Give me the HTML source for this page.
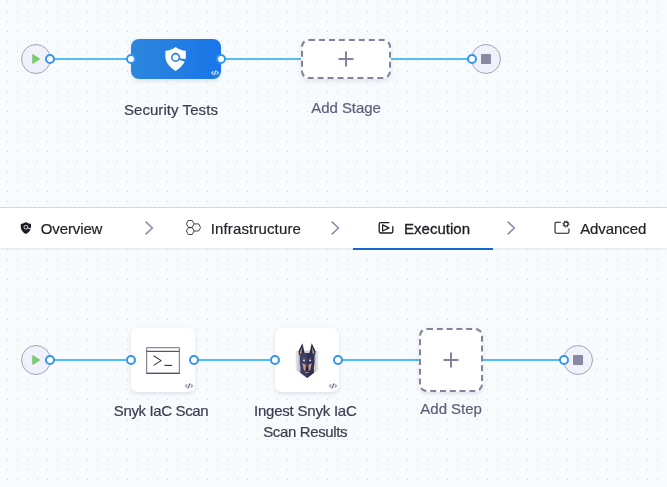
<!DOCTYPE html>
<html lang="en">
<head>
<meta charset="utf-8">
<title>Pipeline Studio</title>
<style>
html,body{margin:0;padding:0;}
body{width:667px;height:487px;overflow:hidden;position:relative;background:#f8fbfe;font-family:"Liberation Sans",sans-serif;font-size:15px;color:#3b3c4e;}
.canvas{position:absolute;left:0;width:667px;background-color:#f8fbfe;overflow:hidden;}
#c1{top:0;height:207px;}
#c2{top:248px;height:239px;}
#root{position:absolute;left:0;top:0;width:667px;height:487px;will-change:transform;}
.abs{position:absolute;}
.line{position:absolute;height:2px;background:#52bdf2;}
.circ{position:absolute;width:28px;height:28px;border:1px solid #a2a3b9;border-radius:50%;background:#f0f1fa;}
.port{position:absolute;width:6px;height:6px;border:2px solid #3395ec;border-radius:50%;background:#fff;}
.sq{position:absolute;width:10px;height:10px;background:#8889a2;border-radius:1px;}
.node{position:absolute;background:#fff;border-radius:6px;box-shadow:0 0 1px rgba(40,41,61,.06),0 2px 4px rgba(96,97,112,.16);}
.stage{position:absolute;border-radius:8px;background:linear-gradient(90deg,#2c87dc,#1a75ea);box-shadow:0 0 1px rgba(40,41,61,.06),0 2px 4px rgba(96,97,112,.16);}
.dash{border:2px dashed #81829e;}
.lbl{position:absolute;white-space:nowrap;line-height:21px;-webkit-text-stroke:0.2px currentColor;}
.tabbar{position:absolute;left:0;top:207px;width:667px;height:40px;background:#fff;border-top:1px solid #d4d6e3;box-shadow:0 1px 2px rgba(96,97,112,.15);}
.tab{position:absolute;white-space:nowrap;line-height:20px;color:#22222a;-webkit-text-stroke:0.2px currentColor;}
svg{position:absolute;overflow:visible;}
</style>
</head>
<body>
<div id="root">
<div class="canvas" id="c1"><svg width="667" height="207" style="left:0;top:0;" shape-rendering="crispEdges"><defs><pattern id="dots" x="0" y="0" width="10" height="10" patternUnits="userSpaceOnUse"><rect x="7" y="1" width="1" height="1" fill="#d2d4e2"/></pattern></defs><rect x="0" y="0" width="667" height="207" fill="url(#dots)"/></svg></div>
<div class="canvas" id="c2"><svg width="667" height="239" style="left:0;top:0;" shape-rendering="crispEdges"><rect x="0" y="0" width="667" height="239" fill="url(#dots)"/></svg></div>

<!-- top pipeline -->
<div class="line" style="left:50px;top:58px;width:81px;"></div>
<div class="line" style="left:221px;top:58px;width:80px;"></div>
<div class="line" style="left:391px;top:58px;width:81px;"></div>
<div class="circ" style="left:21px;top:44px;"></div>
<svg style="left:31px;top:53px;" width="12" height="12" viewBox="0 0 12 12"><path d="M1.9 1.9 L8.4 6 L1.9 10.1 Z" fill="#7fc874" stroke="#7fc874" stroke-width="1.4" stroke-linejoin="round"/></svg>
<div class="circ" style="left:471px;top:44px;"></div>
<div class="sq" style="left:481px;top:54px;"></div>
<div class="stage" style="left:131px;top:39px;width:90px;height:40px;"></div>
<svg style="left:131px;top:39px;" width="90" height="40" viewBox="0 0 90 40">
  <path d="M44.6 7.9 C47.4 10 50.8 11.4 54.8 11.8 L54.8 18 C54.8 23 50.5 28.5 44.6 32 C38.7 28.5 34.4 23 34.4 18 L34.4 11.8 C38.4 11.4 41.8 10 44.6 7.9 Z" fill="#fff"/>
  <circle cx="44.6" cy="18.4" r="3.75" fill="#fff" stroke="#2380e0" stroke-width="1.6"/>
  <path d="M48.4 19.2 L55.4 20.2 L55.4 23.2 L48 20.7 Z" fill="#2380e0"/>
  <path d="M82.5 32.3 L80.8 33.9 L82.5 35.5 M85.7 32.3 L87.4 33.9 L85.7 35.5" stroke="#fff" stroke-opacity="0.6" stroke-width="1.5" stroke-linejoin="round" fill="none"/><path d="M85 31.3 L83.3 36.3" stroke="#fff" stroke-width="1" fill="none"/>
</svg>
<div class="port" style="left:45px;top:54px;"></div>
<div class="port" style="left:126px;top:54px;"></div>
<div class="port" style="left:216px;top:54px;"></div>
<div class="port" style="left:467px;top:54px;"></div>
<div class="node dash" style="left:301px;top:39px;width:86px;height:36px;border-radius:8px;"></div>
<svg style="left:301px;top:39px;" width="90" height="40" viewBox="0 0 90 40">
  <path d="M37.5 20 H52.5 M45 12.5 V27.5" stroke="#81829e" stroke-width="2" fill="none"/>
</svg>
<div class="lbl" id="t1" style="left:123.90px;letter-spacing:0.070px;top:99px;">Security Tests</div>
<div class="lbl" id="t2" style="left:311.32px;letter-spacing:-0.067px;top:97px;color:#5d5e78;">Add Stage</div>

<!-- tab bar -->
<div class="tabbar"></div>
<div class="abs" style="left:353px;top:208px;width:140px;height:43px;background:#fff;"></div>
<div class="abs" style="left:353px;top:248px;width:140px;height:2px;background:#1465cc;"></div>
<svg style="left:20px;top:220.8px;" width="12" height="13" viewBox="0 0 12 13">
  <path d="M5.9 0.9 C7.4 2 9.1 2.6 11 2.8 L11 6 C10.9 9 9 11.4 5.9 13 C2.8 11.4 0.9 9 0.8 6 L0.8 2.8 C2.7 2.6 4.4 2 5.9 0.9 Z" fill="#1b1b25"/>
  <circle cx="5.9" cy="6.2" r="1.9" fill="none" stroke="#fff" stroke-width="0.8"/>
  <path d="M7.7 7 L11.2 8" stroke="#fff" stroke-width="0.9"/>
</svg>
<div class="tab" id="t3" style="left:40.71px;letter-spacing:-0.110px;top:219px;">Overview</div>
<svg style="left:140px;top:218px;" width="20" height="20" viewBox="0 0 20 20"><path d="M5.6 3.7 L12.3 10 L5.6 16.3" stroke="#8c8db0" stroke-width="1.6" fill="none"/></svg>
<svg style="left:186px;top:220px;" width="16" height="16" viewBox="0 0 16 16">
  <g fill="none" stroke="#2a2a34" stroke-width="0.9" stroke-linejoin="round">
  <path d="M0.4 3.9 L2.3 0.5 L6.2 0.5 L8.1 3.9 L6.2 7.4 L2.3 7.4 Z"/>
  <path d="M0.4 11 L2.3 7.6 L6.2 7.6 L8.1 11 L6.2 14.5 L2.3 14.5 Z"/>
  <path d="M8.1 3.9 L12.6 3.9 L14.6 7.5 L12.6 11 L8.1 11"/>
  </g>
</svg>
<div class="tab" id="t4" style="left:210.80px;letter-spacing:0.130px;top:219px;">Infrastructure</div>
<svg style="left:326px;top:218px;" width="20" height="20" viewBox="0 0 20 20"><path d="M5.7 3.7 L12.4 10 L5.7 16.3" stroke="#8c8db0" stroke-width="1.6" fill="none"/></svg>
<svg style="left:378px;top:221px;" width="16" height="14" viewBox="0 0 16 14">
  <g fill="none" stroke="#1b1b25" stroke-width="1.3" stroke-linejoin="round" stroke-linecap="round">
  <path d="M10.8 1.6 L2.6 1.6 Q1.2 1.6 1.2 3 L1.2 10.6 Q1.2 12 2.6 12 L13.4 12 Q14.8 12 14.8 10.6 L14.8 5.6"/>
  <path d="M4.6 3.9 L11 6.9 L4.6 10 Z" stroke-width="1.2"/>
  </g>
</svg>
<div class="tab" id="t5" style="left:404.04px;letter-spacing:0.012px;top:219px;-webkit-text-stroke:0.32px #22222a;">Execution</div>
<svg style="left:502px;top:218px;" width="20" height="20" viewBox="0 0 20 20"><path d="M5.6 3.7 L12.3 10 L5.6 16.3" stroke="#8c8db0" stroke-width="1.6" fill="none"/></svg>
<svg style="left:554px;top:220px;" width="17" height="15" viewBox="0 0 17 15">
  <g fill="none" stroke="#1b1b25" stroke-width="1.2" stroke-linecap="round" stroke-linejoin="round">
  <path d="M6.4 2.3 L2.2 2.3 Q1.05 2.3 1.05 3.4 L1.05 12.1 Q1.05 13.3 2.2 13.3 L13.8 13.3 Q14.95 13.3 14.95 12.1 L14.95 8.9" stroke-width="1.1"/>
  <circle cx="11.95" cy="4.1" r="2.15" stroke-width="1.2"/>
  <circle cx="11.95" cy="4.1" r="3.1" stroke-width="1" stroke-dasharray="1.1 1.335" stroke-linecap="butt"/>
  </g>
</svg>
<div class="tab" id="t6" style="left:580.19px;letter-spacing:-0.081px;top:219px;">Advanced</div>

<!-- bottom pipeline -->
<div class="line" style="left:50px;top:359px;width:81px;"></div>
<div class="line" style="left:194px;top:359px;width:81px;"></div>
<div class="line" style="left:338px;top:359px;width:81px;"></div>
<div class="line" style="left:483px;top:359px;width:81px;"></div>
<div class="circ" style="left:21px;top:345px;"></div>
<svg style="left:31px;top:354px;" width="12" height="12" viewBox="0 0 12 12"><path d="M1.9 1.9 L8.4 6 L1.9 10.1 Z" fill="#7fc874" stroke="#7fc874" stroke-width="1.4" stroke-linejoin="round"/></svg>
<div class="circ" style="left:563px;top:345px;"></div>
<div class="sq" style="left:573px;top:355px;"></div>
<div class="node" style="left:131px;top:328px;width:64px;height:64px;"></div>
<svg style="left:131px;top:328px;" width="64" height="64" viewBox="0 0 64 64">
  <g fill="none" stroke="#5d5e6e" stroke-width="1.2" stroke-linejoin="round">
  <rect x="15.6" y="19.6" width="32.8" height="25.8" rx="0.6" stroke="#8b8c9c" stroke-width="1.3"/>
  <path d="M15.3 45.4 H48.7" stroke="#4e4f60" stroke-width="1.2"/>
  <path d="M15.6 23.3 H48.4" stroke="#555667"/>
  <path d="M22.6 27.8 L30.2 32.6 L22.6 37.4" stroke="#33343f" stroke-width="1.1"/>
  <path d="M33.3 37.4 H41.2" stroke="#33343f" stroke-width="1.1"/>
  </g>
  <path d="M56.2 56.3 L54.6 57.9 L56.2 59.5 M59.8 56.3 L61.5 57.9 L59.8 59.5" stroke="#6f7094" stroke-opacity="0.6" stroke-width="1.5" stroke-linejoin="round" fill="none"/><path d="M58.8 55.4 L57.1 60.4" stroke="#43446f" stroke-width="1" fill="none"/>
</svg>
<div class="node" style="left:275px;top:328px;width:64px;height:64px;"></div>
<svg style="left:275px;top:328px;" width="64" height="64" viewBox="0 0 64 64">
  <!-- collar / shield -->
  <path d="M20.7 22.9 H43.2 V42.3 L38.9 44.6 H25.2 L20.7 42.3 Z" fill="#dfdfe0"/>
  <path d="M22.9 22.9 H41 V43.4 L38.9 44.6 H25.2 L22.9 43.4 Z" fill="#c6c6c8"/>
  <path d="M28 22.2 H36 V26 H28 Z" fill="#d6d6d8"/>
  <!-- ears -->
  <path d="M27.4 15.2 C26 18.4 24.2 21 23.6 23.4 C23.6 25 24 26.2 24.6 27.6 L29.8 25.4 C29 23 28.4 19.4 27.4 15.2 Z" fill="#282a4c"/>
  <path d="M36.7 15.2 C38.1 18.4 39.9 21 40.5 23.4 C40.5 25 40.1 26.2 39.5 27.6 L34.3 25.4 C35.1 23 35.7 19.4 36.7 15.2 Z" fill="#282a4c"/>
  <path d="M26.8 19.2 C26 21.4 25 23.4 24.8 25.6 L26.4 26 C26.6 23.6 27 21.4 26.8 19.2 Z" fill="#d0a580"/>
  <path d="M37.3 19.2 C38.1 21.4 39.1 23.4 39.3 25.6 L37.7 26 C37.500 23.6 37.1 21.4 37.3 19.2 Z" fill="#d0a580"/>
  <!-- head -->
  <path d="M24.8 26.6 L29.3 25 H34.8 L39.3 26.6 V35.6 L38.5 40.2 L39 44.8 L32.05 50.1 L25.1 44.8 L25.6 40.2 L24.8 35.6 Z" fill="#3c3f68"/>
  <path d="M32.05 25 H34.8 L39.3 26.6 V35.6 L38.5 40.2 L39 44.8 L32.05 50.1 Z" fill="#2f3158"/>
  <!-- muzzle tan -->
  <path d="M27.3 35.3 C28.5 35.9 29.8 36.1 30.7 36.7 C30.6 38.6 30.5 40.6 30.9 42.5 L28.9 42.3 C28.5 39.8 27.9 37.6 27.3 35.3 Z" fill="#c9a07d"/>
  <path d="M36.8 35.3 C35.6 35.9 34.3 36.1 33.4 36.7 C33.5 38.6 33.6 40.6 33.2 42.5 L35.2 42.3 C35.6 39.8 36.2 37.6 36.8 35.3 Z" fill="#c9a07d"/>
  <path d="M30.9 39.4 H33.2 L33.4 42.2 L32.05 42.8 L30.7 42.2 Z" fill="#1e1f3a"/>
  <path d="M29.9 44.9 L32.05 43.7 L34.2 44.9 Z" fill="#c9a07d"/>
  <!-- brows and eyes -->
  <path d="M27.8 30.2 L30.4 31 L30.2 31.8 L27.9 31.2 Z" fill="#b58f73"/>
  <path d="M36.3 30.2 L33.7 31 L33.9 31.8 L36.2 31.2 Z" fill="#b58f73"/>
  <path d="M27.9 32 L30.1 32.2 L29.9 33.3 L28.1 33.1 Z" fill="#e9e9ee"/>
  <path d="M36.2 32 L34 32.2 L34.2 33.3 L36 33.1 Z" fill="#e9e9ee"/>
  <path d="M56.2 56.3 L54.6 57.9 L56.2 59.5 M59.8 56.3 L61.5 57.9 L59.8 59.5" stroke="#6f7094" stroke-opacity="0.6" stroke-width="1.5" stroke-linejoin="round" fill="none"/><path d="M58.8 55.4 L57.1 60.4" stroke="#43446f" stroke-width="1" fill="none"/>
</svg>
<div class="node dash" style="left:419px;top:328px;width:60px;height:60px;border-radius:8px;"></div>
<svg style="left:419px;top:328px;" width="64" height="64" viewBox="0 0 64 64">
  <path d="M24.5 32 H39.5 M32 24.5 V39.5" stroke="#81829e" stroke-width="2" fill="none"/>
</svg>
<div class="port" style="left:45px;top:355px;"></div>
<div class="port" style="left:126px;top:355px;"></div>
<div class="port" style="left:189px;top:355px;"></div>
<div class="port" style="left:270px;top:355px;"></div>
<div class="port" style="left:333px;top:355px;"></div>
<div class="port" style="left:559px;top:355px;"></div>
<div class="lbl" id="t7" style="left:113.80px;letter-spacing:-0.370px;top:400px;">Snyk IaC Scan</div>
<div class="lbl" id="t8" style="left:254.00px;letter-spacing:-0.220px;top:400px;">Ingest Snyk IaC</div>
<div class="lbl" id="t9" style="left:263.20px;letter-spacing:-0.360px;top:421px;">Scan Results</div>
<div class="lbl" id="t10" style="left:420.32px;letter-spacing:-0.016px;top:398px;color:#5d5e78;">Add Step</div>
</div>
</body>
</html>
